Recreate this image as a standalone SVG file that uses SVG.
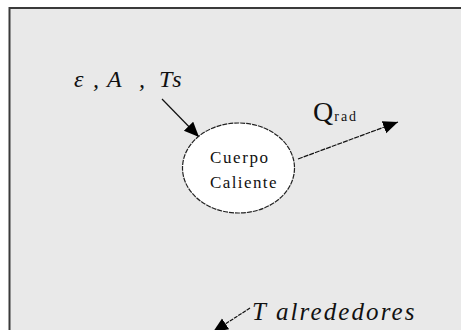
<svg xmlns="http://www.w3.org/2000/svg" width="461" height="330" viewBox="0 0 461 330">
<style>
.it{font-style:italic;fill:#111}
.rm{fill:#111}
.ln{stroke:#111;stroke-width:1.2;fill:none}
</style>
<defs>
<marker id="ah" markerUnits="userSpaceOnUse" markerWidth="16" markerHeight="14" refX="15" refY="6.5" orient="auto">
<path d="M0,0 L15,6.5 L0,13 Z" fill="#000"/>
</marker>
</defs>
<rect x="0" y="0" width="461" height="330" fill="#ffffff"/>
<rect x="9.5" y="8" width="470" height="340" fill="#e9e9e9" stroke="#3a3a3a" stroke-width="2"/>
<g id="connectors">
<line class="ln" x1="162" y1="99" x2="199" y2="137" marker-end="url(#ah)"/>
<line class="ln" x1="298" y1="159" x2="398" y2="122" stroke-dasharray="5,1" marker-end="url(#ah)"/>
<line class="ln" x1="250" y1="308" x2="213" y2="332" stroke-dasharray="4,1" marker-end="url(#ah)"/>
</g>
<g id="inputs" font-family="'Liberation Serif', 'DejaVu Serif', serif">
<text class="it" font-size="24" y="87"><tspan x="74">ε</tspan><tspan x="93">,</tspan><tspan x="107">A</tspan><tspan x="139">,</tspan><tspan x="159" letter-spacing="2">Ts</tspan></text>
</g>
<g id="cuerpo" font-family="'Liberation Serif', 'DejaVu Serif', serif">
<ellipse cx="238.5" cy="168" rx="56" ry="45" fill="#ffffff" stroke="#222" stroke-width="1.2" stroke-dasharray="5,1"/>
<text class="rm" font-size="17" letter-spacing="1.6" x="210" y="163">Cuerpo</text>
<text class="rm" font-size="17" letter-spacing="1.4" x="210" y="188">Caliente</text>
</g>
<g id="qrad" font-family="'Liberation Serif', 'DejaVu Serif', serif">
<text class="rm" x="313" y="121"><tspan font-size="28">Q</tspan><tspan font-size="14" letter-spacing="2" dx="1">rad</tspan></text>
</g>
<g id="alrededores" font-family="'Liberation Serif', 'DejaVu Serif', serif">
<text class="it" font-size="25" letter-spacing="2.1" x="252" y="320">T alrededores</text>
</g>
</svg>
